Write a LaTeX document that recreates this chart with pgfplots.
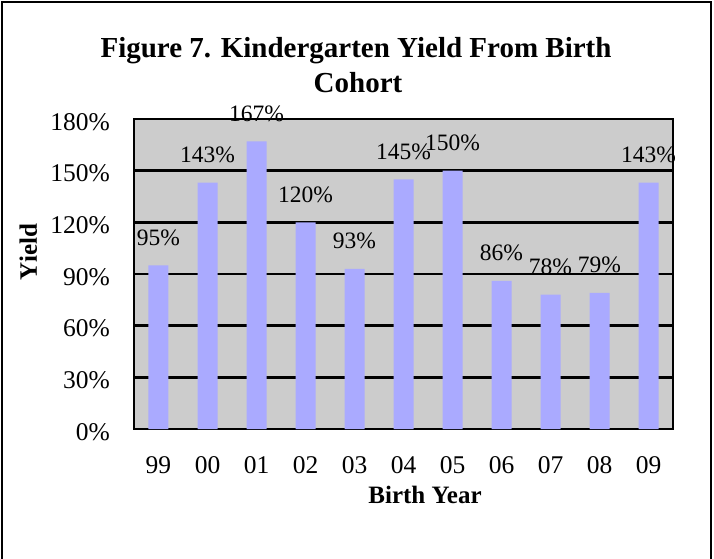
\documentclass[border=0pt]{standalone}
\usepackage{pgfplots}
\pgfplotsset{compat=1.18}
\usepackage{fontspec}
\setmainfont{Liberation Serif}
\definecolor{barblue}{RGB}{170,170,255}
\definecolor{plotgray}{RGB}{204,204,204}
\begin{document}
\begin{tikzpicture}[x=1pt,y=1pt]
\useasboundingbox (-134,-129) rectangle (580,429);
\draw[line width=2.5pt] (-132,-140) -- (-132,427) -- (577,427) -- (577,-140);
\begin{axis}[
  at={(0,0)}, anchor=south west,
  scale only axis, width=539pt, height=310pt,
  xmin=-0.5, xmax=10.5, ymin=0, ymax=180,
  ybar, bar width=20pt,
  axis background/.style={fill=plotgray},
  axis line style={line width=2.8pt},
  ymajorgrids, grid style={black, line width=2.4pt},
  ytick={0,30,60,90,120,150,180},
  yticklabel={\pgfmathprintnumber{\tick}\%},
  ytick style={draw=none},
  xtick={0,1,2,3,4,5,6,7,8,9,10},
  xticklabels={99,00,01,02,03,04,05,06,07,08,09},
  xtick style={line width=2pt, black},
  tick align=inside, major tick length=6pt,
  xtick pos=bottom,
  yticklabel style={font=\fontsize{25.5}{30}\selectfont, anchor=base east, inner sep=0pt, xshift=-24pt, yshift=-11pt},
  xticklabel style={font=\fontsize{25.5}{30}\selectfont, anchor=base, inner sep=0pt, yshift=-44pt},
  /pgf/number format/assume math mode=true,
  clip=false,
  nodes near coords={\pgfmathprintnumber{\pgfplotspointmeta}\%},
  every node near coord/.append style={font=\fontsize{23.5}{28}\selectfont, anchor=base, inner sep=0pt, yshift=20pt},
]
\addplot[fill=barblue, draw=none] coordinates {
 (0,95) (1,143) (2,167) (3,120) (4,93) (5,145) (6,150) (7,86) (8,78) (9,79) (10,143)};
\end{axis}
\node[font=\bfseries\fontsize{29}{34}\selectfont, anchor=base, inner sep=0pt] at (222,372) {Figure 7. Kindergarten Yield From Birth};
\node[font=\bfseries\fontsize{29}{34}\selectfont, anchor=base, inner sep=0pt] at (224,337) {Cohort};
\node[font=\bfseries\fontsize{25}{30}\selectfont, anchor=base, inner sep=0pt] at (291,-74) {Birth Year};
\node[font=\bfseries\fontsize{25}{30}\selectfont, rotate=90, anchor=base, inner sep=0pt] at (-97,177) {Yield};
\end{tikzpicture}
\end{document}
